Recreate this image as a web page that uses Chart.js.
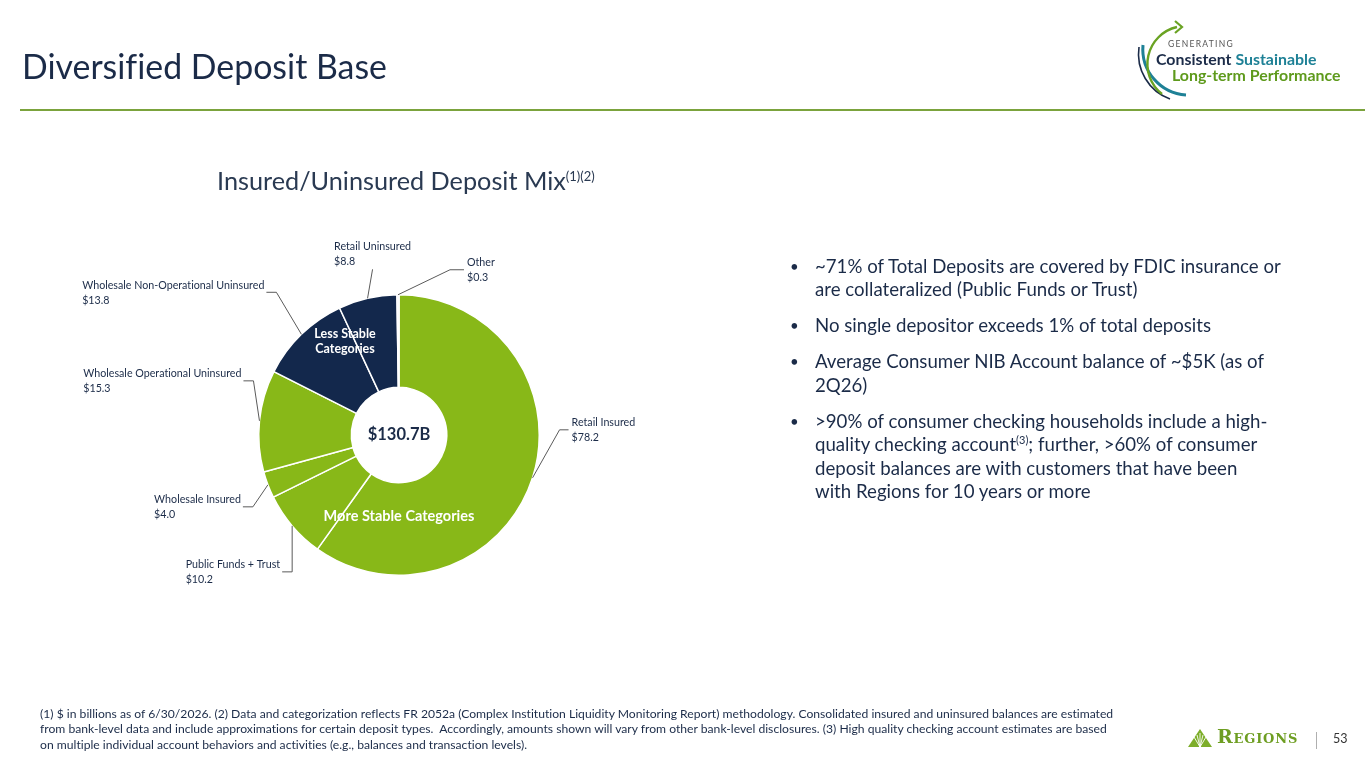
<!DOCTYPE html>
<html>
<head>
<meta charset="utf-8">
<script src="https://cdn.jsdelivr.net/npm/chart.js@4.4.1/dist/chart.umd.min.js"></script>
<style>
  html,body{margin:0;padding:0;background:#fff;}
  body{width:1365px;height:768px;position:relative;overflow:hidden;font-family:'Source Sans Pro','Lato','Noto Sans',sans-serif;color:#1B2B48;font-variant-ligatures:none;font-feature-settings:"liga" 0;}
  #chartWrap{position:absolute;left:0;top:0;width:1365px;height:768px;z-index:0;}
  .abs{position:absolute;z-index:1;white-space:nowrap;}
  #title{left:22px;top:46px;font-size:32px;line-height:40px;color:#1B2B48;}
  #rule{position:absolute;left:20px;right:0;top:109px;height:2px;background:#7BA33D;}
  #subtitle{left:217px;top:166px;font-size:22px;line-height:28px;color:#2A3A52;}
  #subtitle sup{font-size:13px;vertical-align:0;position:relative;top:-9px;line-height:0;}
  #bullets{left:790px;top:255px;font-size:18px;color:#1B2B48;}
  .b{position:relative;padding-left:25px;line-height:23.4px;margin-bottom:12.6px;}
  .b::before{content:'•';position:absolute;left:0;top:0;font-size:15px;}
  .b sup{font-size:11px;vertical-align:0;position:relative;top:-7px;line-height:0;}
  #foot{left:40px;top:706px;font-size:12px;line-height:15.3px;color:#1B2B48;}
  #pageno{left:1333px;top:731px;font-size:12.5px;color:#333;}
  #sep{position:absolute;left:1316px;top:732px;width:1px;height:17px;background:#AFAFAF;}
  #regions{left:1217px;top:725px;font-family:'DejaVu Serif','Liberation Serif',serif;font-weight:bold;color:#6E9E22;font-size:19px;letter-spacing:0.8px;font-variant:small-caps;}
</style>
</head>
<body>
<div id="chartWrap"><canvas id="c"></canvas></div>

<div id="title" class="abs"><span id="titleTxt">Diversified Deposit Base</span></div>
<div id="rule"></div>
<div id="subtitle" class="abs"><span id="subTxt">Insured/Uninsured Deposit Mix</span><sup>(1)(2)</sup></div>

<div id="bullets" class="abs">
  <div class="b"><span id="bref">~71% of Total Deposits are covered by FDIC insurance or</span><br>are collateralized (Public Funds or Trust)</div>
  <div class="b">No single depositor exceeds 1% of total deposits</div>
  <div class="b">Average Consumer NIB Account balance of ~$5K (as of<br>2Q26)</div>
  <div class="b">&gt;90% of consumer checking households include a high-<br>quality checking account<sup>(3)</sup>; further, &gt;60% of consumer<br>deposit balances are with customers that have been<br>with Regions for 10 years or more</div>
</div>

<div id="foot" class="abs"><span id="fref">(1) $ in billions as of 6/30/2026. (2) Data and categorization reflects FR 2052a (Complex Institution Liquidity Monitoring Report) methodology. Consolidated insured and uninsured balances are estimated</span><br>from bank-level data and include approximations for certain deposit types.&nbsp; Accordingly, amounts shown will vary from other bank-level disclosures. (3) High quality checking account estimates are based<br>on multiple individual account behaviors and activities (e.g., balances and transaction levels).</div>

<!-- top-right logo -->
<svg class="abs" style="left:1120px;top:15px;" width="245" height="90" viewBox="0 0 245 90">
  <path d="M 19 32 A 48 48 0 0 0 50 84" fill="none" stroke="#1B2B48" stroke-width="1.6"/>
  <path d="M 23 30 A 46 46 0 0 0 66 80" fill="none" stroke="#1E8196" stroke-width="3"/>
  <path d="M 42 79 A 38 38 0 0 1 57 12" fill="none" stroke="#6AA323" stroke-width="2.4"/>
  <path d="M 55 6 L 62 12 L 55 18" fill="none" stroke="#6AA323" stroke-width="2.2"/>
  <text x="48" y="32" font-family="Lato, sans-serif" font-size="8.5" letter-spacing="1.3" fill="#555">GENERATING</text>
  <text x="36" y="50" font-family="Lato, sans-serif" font-size="15.9" font-weight="bold" fill="#1B2B48">Consistent <tspan fill="#1E8196">Sustainable</tspan></text>
  <text x="52" y="65.5" font-family="Lato, sans-serif" font-size="15.9" font-weight="bold" fill="#5E9A1C">Long-term Performance</text>
</svg>

<!-- bottom-right Regions logo -->
<svg class="abs" style="left:1186px;top:727px;" width="30" height="22" viewBox="0 0 30 22">
  <path d="M 2 20 L 14 2 L 26 20 Z" fill="#7DAE2A"/>
  <path d="M 14 20 L 8 10 M 14 20 L 11 8 M 14 20 L 14 6 M 14 20 L 17 8 M 14 20 L 20 10" stroke="#fff" stroke-width="0.9"/>
</svg>
<div id="regions" class="abs">Regions</div>
<div id="sep"></div>
<div id="pageno" class="abs">53</div>

<script>
// ---- data ----
const categories = ['Retail Insured','Public Funds + Trust','Wholesale Insured','Wholesale Operational Uninsured','Wholesale Non-Operational Uninsured','Retail Uninsured','Other'];
const values = [78.2, 10.2, 4.0, 15.3, 13.8, 8.8, 0.3];
const valueLabels = ['$78.2','$10.2','$4.0','$15.3','$13.8','$8.8','$0.3'];
const totalLabel = '$130.7B';
const stableGroupLabel = 'More Stable Categories';
const lessStableGroupLabel = ['Less Stable','Categories'];

// ---- style ----
const GREEN = '#88B818', NAVY = '#13284C';
const sliceColors = [GREEN, GREEN, GREEN, GREEN, NAVY, NAVY, '#F0F0F0'];
// leader shapes: elbow offset from the slice anchor, then horizontal run, label side
const leaderStyle = [
  {dx: 27, dy: -48, run: 9,  side: 'right'},
  {dx: 0,  dy: 46,  run: -10, side: 'left'},
  {dx: -15,dy: 22,  run: -10, side: 'left'},
  {dx: -6, dy: -40, run: -10, side: 'left'},
  {dx: -25,dy: -42, run: -10, side: 'left'},
  {dx: 5,  dy: -29, run: 0,   side: 'top'},
  {dx: 52, dy: -25, run: 14,  side: 'right'}
];
const LABEL_FONT = "10.7px 'Source Sans Pro', Lato, sans-serif";

// fit text widths
function fit(el, refId, target){
  const ref = document.getElementById(refId);
  const fs = parseFloat(getComputedStyle(el).fontSize);
  const w = ref.getBoundingClientRect().width;
  el.style.fontSize = (fs * target / w) + 'px';
}
fit(document.getElementById('title'), 'titleTxt', 365);
fit(document.getElementById('subtitle'), 'subTxt', 349);
fit(document.getElementById('bullets'), 'bref', 466);
fit(document.getElementById('foot'), 'fref', 1074);

const leaderPlugin = {
  id: 'leaderLabels',
  afterDatasetsDraw(chart){
    const ctx = chart.ctx;
    const meta = chart.getDatasetMeta(0);
    ctx.save();
    meta.data.forEach((arc, i) => {
      const p = arc.getProps(['x','y','startAngle','endAngle','outerRadius','innerRadius'], true);
      const mid = (p.startAngle + p.endAngle) / 2;
      const ax = p.x + Math.cos(mid) * p.outerRadius;
      const ay = p.y + Math.sin(mid) * p.outerRadius;
      const s = leaderStyle[i];
      const ex = ax + s.dx, ey = ay + s.dy;
      const hx = ex + s.run;
      ctx.strokeStyle = '#5A5A5A';
      ctx.lineWidth = 1;
      ctx.beginPath();
      ctx.moveTo(ax, ay); ctx.lineTo(ex, ey); ctx.lineTo(hx, ey);
      ctx.stroke();
      ctx.font = LABEL_FONT;
      ctx.fillStyle = '#1B2B48';
      ctx.textBaseline = 'middle';
      ctx.textAlign = 'left';
      const l1 = categories[i], l2 = valueLabels[i];
      let tx, ty1;
      if (s.side === 'right'){ tx = hx + 3; ty1 = ey - 7; }
      else if (s.side === 'left'){ tx = hx - 2 - ctx.measureText(l1).width; ty1 = ey - 7; }
      else { tx = hx - ctx.measureText(l1).width/2; ty1 = ey - 23; }
      ctx.fillText(l1, tx, ty1);
      ctx.fillText(l2, tx, ty1 + 15);
    });
    // center & group labels
    const a0 = meta.data[0];
    const cx = a0.x, cy = a0.y;
    ctx.textAlign = 'center';
    ctx.textBaseline = 'middle';
    ctx.fillStyle = '#1B2B48';
    ctx.font = "bold 16.5px 'Source Sans Pro', Lato, sans-serif";
    ctx.fillText(totalLabel, cx, cy);
    ctx.fillStyle = '#FFFFFF';
    ctx.font = "bold 14.5px 'Source Sans Pro', Lato, sans-serif";
    ctx.fillText(stableGroupLabel, cx, cy + 81);
    ctx.font = "bold 12.5px 'Source Sans Pro', Lato, sans-serif";
    ctx.fillText(lessStableGroupLabel[0], cx - 54, cy - 101);
    ctx.fillText(lessStableGroupLabel[1], cx - 54, cy - 86);
    ctx.restore();
  }
};

new Chart(document.getElementById('c'), {
  type: 'doughnut',
  data: {
    labels: categories,
    datasets: [{
      data: values,
      backgroundColor: sliceColors,
      borderColor: '#FFFFFF',
      borderWidth: 1.5
    }]
  },
  options: {
    responsive: true,
    maintainAspectRatio: false,
    animation: false,
    events: [],
    cutout: '34%',
    layout: { padding: { left: 258, top: 294, right: 1365 - 540, bottom: 768 - 576 } },
    plugins: { legend: { display: false }, tooltip: { enabled: false } }
  },
  plugins: [leaderPlugin]
});
</script>
</body>
</html>
